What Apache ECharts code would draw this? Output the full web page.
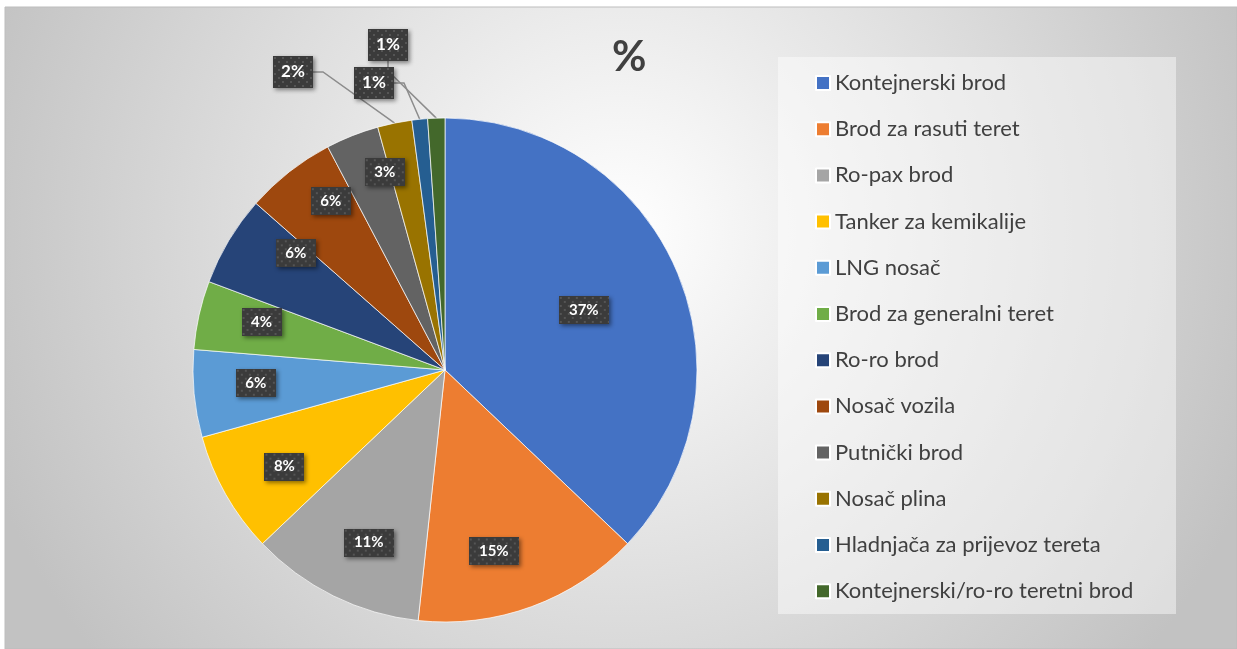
<!DOCTYPE html>
<html lang="hr">
<head>
<meta charset="UTF-8">
<title>%</title>
<script src="https://cdn.jsdelivr.net/npm/echarts@6/dist/echarts.min.js"></script>
<style>
  html, body { margin: 0; padding: 0; background: #fff; }
  #chart { width: 1237px; height: 649px; }
</style>
</head>
<body>
<div id="chart"></div>
<script>
// udjeli po tipu broda (u %)
var categories = [
  'Kontejnerski brod',
  'Brod za rasuti teret',
  'Ro-pax brod',
  'Tanker za kemikalije',
  'LNG nosač',
  'Brod za generalni teret',
  'Ro-ro brod',
  'Nosač vozila',
  'Putnički brod',
  'Nosač plina',
  'Hladnjača za prijevoz tereta',
  'Kontejnerski/ro-ro teretni brod'
];
var values = [37.1, 14.6, 11.2, 7.8, 5.6, 4.4, 5.8, 5.8, 3.4, 2.2, 1.0, 1.1];
var colors = ['#4472C4', '#ED7D31', '#A5A5A5', '#FFC000', '#5B9BD5', '#70AD47',
              '#264478', '#9E480E', '#636363', '#997300', '#255E91', '#43682B'];
var outside = [9, 10, 11]; // mali udjeli s oznakom izvan kruga

// tamna pozadina oznake s tockicama
function makeBg(w, h) {
  var c = document.createElement('canvas');
  c.width = w; c.height = h;
  var ctx = c.getContext('2d');
  ctx.fillStyle = '#3b3b3b';
  ctx.fillRect(0, 0, w, h);
  ctx.fillStyle = '#555555';
  for (var j = 0; j * 4 + 1 < h; j++) {
    for (var x = (j % 2) * 4 + 1; x < w; x += 8) {
      ctx.fillRect(x, j * 4 + 1, 2, 2);
    }
  }
  return c;
}

var bgInner2 = makeBg(50, 28);
var bgInner1 = makeBg(40, 28);
var bgOuter = makeBg(40, 32);

// polozaj vanjskih oznaka i sitni pomaci unutarnjih (kao u Excelu)
var outerPos = { 9: [293, 72], 10: [374, 83], 11: [388, 45] };
var innerNudge = {
  0: [-34, 14], 1: [-16, 5], 2: [7, 4], 3: [3, 4], 4: [-2, -5],
  5: [0, -7], 6: [12, -20], 7: [2, -21], 8: [9, -23]
};

var mainData = categories.map(function (name, i) {
  var isOut = outside.indexOf(i) >= 0;
  return {
    name: name,
    value: values[i],
    itemStyle: { color: colors[i] },
    label: { show: isOut },
    labelLine: { show: isOut }
  };
});

var labelData = categories.map(function (name, i) {
  var isOut = outside.indexOf(i) >= 0;
  var two = values[i] >= 9.5;
  return {
    name: name,
    value: values[i],
    label: {
      show: !isOut,
      width: two ? 36 : 26,
      backgroundColor: { image: two ? bgInner2 : bgInner1 }
    }
  };
});

var chart = echarts.init(document.getElementById('chart'));

chart.setOption({
  backgroundColor: '#ffffff',
  animation: false,
  graphic: [
    {
      type: 'rect', z: -10, silent: true,
      shape: { x: 5, y: 7, width: 1232, height: 642 },
      style: {
        fill: new echarts.graphic.RadialGradient(0.5, 0.35, 1.05, [
          { offset: 0, color: '#ffffff' },
          { offset: 1, color: '#c2c2c2' }
        ]),
        stroke: '#bdbdbd', lineWidth: 1
      }
    },
    {
      type: 'rect', z: -9, silent: true,
      shape: { x: 778, y: 57, width: 398, height: 557 },
      style: { fill: 'rgba(255,255,255,0.45)' }
    }
  ],
  title: {
    text: '%',
    left: 612,
    top: 36,
    padding: 0,
    textStyle: { fontFamily: 'Lato', fontSize: 42, fontWeight: 'bold', color: '#404040' }
  },
  legend: {
    orient: 'vertical',
    left: 815,
    top: 71,
    padding: 0,
    icon: 'rect',
    itemWidth: 14,
    itemHeight: 14,
    itemGap: 22.2,
    selectedMode: false,
    data: categories,
    textStyle: { fontFamily: 'Lato', fontSize: 22, color: '#404040', lineHeight: 24 }
  },
  series: [
    {
      type: 'pie',
      center: [445, 370],
      radius: 252,
      startAngle: 90,
      clockwise: true,
      percentPrecision: 0,
      avoidLabelOverlap: false,
      itemStyle: { borderColor: '#ffffff', borderWidth: 0.7 },
      emphasis: { disabled: true },
      label: {
        position: 'outside',
        formatter: '{d}%',
        fontFamily: 'Lato',
        fontSize: 17,
        fontWeight: 'bold',
        color: '#ffffff',
        width: 22,
        height: 16,
        overflow: 'none',
        align: 'center',
        padding: [8, 9],
        backgroundColor: { image: bgOuter },
        shadowColor: 'rgba(0,0,0,0.45)',
        shadowBlur: 4,
        shadowOffsetX: 2,
        shadowOffsetY: 2
      },
      labelLine: {
        length: 15,
        length2: 10,
        lineStyle: { color: '#8c8c8c', width: 1.5 }
      },
      labelLayout: function (p) {
        var pos = outerPos[p.dataIndex];
        if (pos) {
          return { x: pos[0], y: pos[1], align: 'center', verticalAlign: 'middle' };
        }
      },
      data: mainData
    },
    {
      // nevidljivi prsten samo za unutarnje oznake
      type: 'pie',
      center: [445, 370],
      radius: [118, 252],
      startAngle: 90,
      clockwise: true,
      percentPrecision: 0,
      silent: true,
      avoidLabelOverlap: false,
      emphasis: { disabled: true },
      itemStyle: { color: 'rgba(0,0,0,0)' },
      label: {
        position: 'inside',
        formatter: '{d}%',
        fontFamily: 'Lato',
        fontSize: 15,
        fontWeight: 'bold',
        color: '#ffffff',
        height: 16,
        overflow: 'none',
        align: 'center',
        padding: [6, 7],
        shadowColor: 'rgba(0,0,0,0.45)',
        shadowBlur: 4,
        shadowOffsetX: 2,
        shadowOffsetY: 2
      },
      labelLine: { show: false },
      labelLayout: function (p) {
        var n = innerNudge[p.dataIndex];
        if (n) {
          return { dx: n[0], dy: n[1] };
        }
      },
      data: labelData
    }
  ]
});
</script>
</body>
</html>
